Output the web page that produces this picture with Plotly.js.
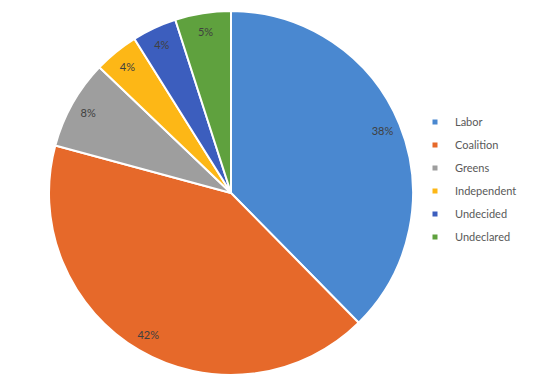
<!DOCTYPE html>
<html><head><meta charset="utf-8">
<script src="https://cdn.plot.ly/plotly-3.0.1.min.js"></script>
<style>html,body{margin:0;padding:0;background:#fff;}</style>
</head><body>
<div id="chart" style="width:552px;height:391px;"></div>
<script>
const labels = ["Labor", "Coalition", "Greens", "Independent", "Undecided", "Undeclared"];
const values = [38, 42, 8, 4, 4, 5];
const colors = ["#4A88D0", "#E6692A", "#9E9E9E", "#FDB716", "#3C5EBE", "#5FA13E"];

const W = 552, H = 391;
const cx = 231, cy = 193, R = 182;
const dom = {x: [(cx - R) / W, (cx + R) / W], y: [1 - (cy + R) / H, 1 - (cy - R) / H]};

const traces = [
  {
    type: "pie", labels: labels, values: values, sort: false, direction: "clockwise", rotation: 0,
    marker: {colors: colors, line: {color: "#ffffff", width: 2}},
    textinfo: "none", hoverinfo: "label+percent", showlegend: false, domain: dom
  },
  {
    type: "pie", labels: labels, values: values, sort: false, direction: "clockwise", rotation: 0,
    hole: 0.8,
    marker: {colors: colors.map(() => "rgba(0,0,0,0)"), line: {width: 0}},
    texttemplate: "%{percent:.0%}", textposition: "inside", insidetextorientation: "horizontal",
    textfont: {family: "Lato, 'Open Sans', sans-serif", size: 11, color: "#404040"},
    hoverinfo: "skip", showlegend: false, domain: dom
  }
];
labels.forEach((l, i) => {
  traces.push({
    type: "scatter", mode: "markers", x: [null], y: [null], name: l, legendgroup: "g" + i,
    marker: {symbol: "square", size: 5, color: colors[i]}, hoverinfo: "skip"
  });
});

const layout = {
  width: W, height: H, margin: {l: 0, r: 0, t: 0, b: 0},
  paper_bgcolor: "#ffffff", plot_bgcolor: "rgba(0,0,0,0)",
  xaxis: {visible: false}, yaxis: {visible: false},
  showlegend: true,
  legend: {
    x: 415 / W, xanchor: "left", y: 1 - 179.5 / H, yanchor: "middle",
    tracegroupgap: 4, itemwidth: 30,
    font: {family: "Lato, 'Open Sans', sans-serif", size: 11, color: "#595959"}
  }
};
Plotly.newPlot("chart", traces, layout, {displayModeBar: false, staticPlot: true});
</script>
</body></html>
